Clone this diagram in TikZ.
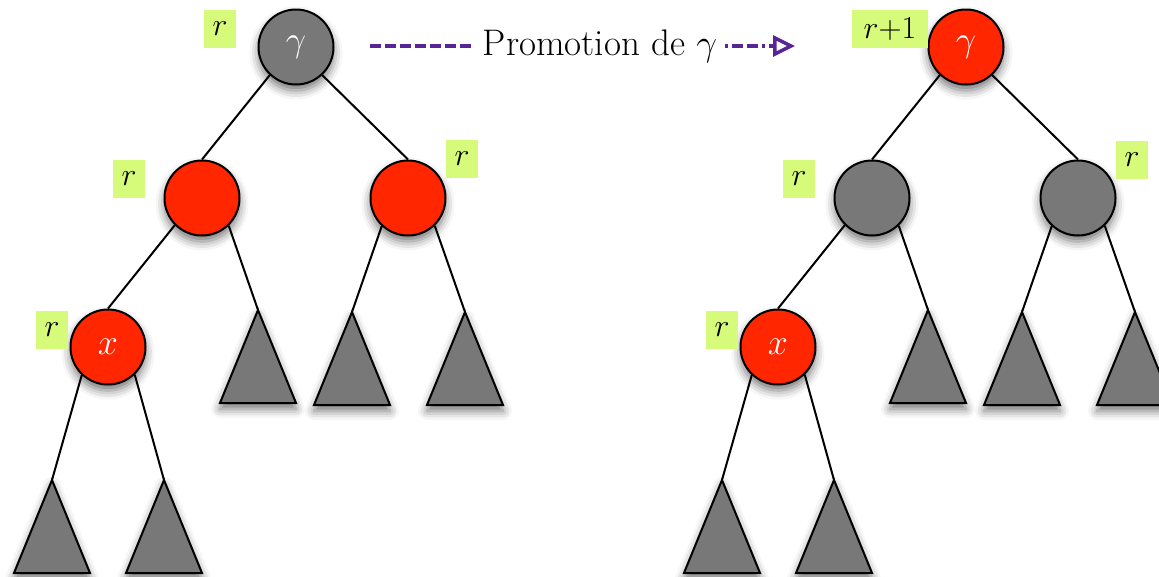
\RequirePackage{fix-cm}
\documentclass[tikz,border=0pt]{standalone}
\usetikzlibrary{arrows.meta,shadows.blur}
\definecolor{nodered}{RGB}{255,38,0}
\definecolor{nodegrey}{RGB}{120,120,120}
\definecolor{tagbg}{RGB}{214,250,121}
\definecolor{arrowpurple}{RGB}{88,36,150}
\begin{document}
\begin{tikzpicture}[x=1pt,y=-1pt,
  softshadow/.style={blur shadow={shadow xshift=0pt, shadow yshift=-6pt, shadow blur radius=9pt, shadow opacity=55}},
  vertex/.style={circle, draw=black, line width=2pt, minimum size=75pt, inner sep=0pt,
    font=\fontsize{36}{36}\selectfont, text=white, softshadow},
  redv/.style={vertex, fill=nodered},
  greyv/.style={vertex, fill=nodegrey},
  tag/.style={fill=tagbg, minimum height=38pt, minimum width=32pt, inner sep=0pt,
    font=\fontsize{32}{32}\selectfont},
  subtree/.style={draw=black, line width=2pt, fill=nodegrey, line join=miter, softshadow},
  link/.style={draw=black, line width=2pt},
  promo/.style={draw=arrowpurple, line width=3.5pt},
]
\useasboundingbox (0,0) rectangle (1159,576);

% apexes of the subtrees
\foreach \n/\x/\y in {la/258/310, lb/352/312, lc/465/312, ld/52/480, le/164/480,
                      ra/928/310, rb/1022/312, rc/1135/312, rd/722/480, re/834/480}
  \coordinate (\n) at (\x,\y);

% subtrees
\foreach \n in {la,lb,lc,ld,le,ra,rb,rc,rd,re}
  \path[subtree] (\n) -- ++(-38,93) -- ++(76,0) -- cycle;

% tree before the promotion
\node[greyv] (Ly) at (296,47) {$\gamma$};
\node[redv]  (Lp) at (202,198) {};
\node[redv]  (Lq) at (408,198) {};
\node[redv]  (Lx) at (108,347) {$x$};

% tree after the promotion
\node[redv]  (Ry) at (966,47) {$\gamma$};
\node[greyv] (Rp) at (872,198) {};
\node[greyv] (Rq) at (1078,198) {};
\node[redv]  (Rx) at (778,347) {$x$};

% edges
\draw[link] (Ly.227) -- (Lp.north);
\draw[link] (Ly.313) -- (Lq.north);
\draw[link] (Lp.225) -- (Lx.north);
\draw[link] (Lp.314) -- (la);
\draw[link] (Lq.227) -- (lb);
\draw[link] (Lq.314) -- (lc);
\draw[link] (Lx.227) -- (ld);
\draw[link] (Lx.314) -- (le);
\draw[link] (Ry.227) -- (Rp.north);
\draw[link] (Ry.313) -- (Rq.north);
\draw[link] (Rp.225) -- (Rx.north);
\draw[link] (Rp.314) -- (ra);
\draw[link] (Rq.227) -- (rb);
\draw[link] (Rq.314) -- (rc);
\draw[link] (Rx.227) -- (rd);
\draw[link] (Rx.314) -- (re);

% rank tags
\node[tag] (tLy) at (220,29) {$r$};
\node[tag] (tLp) at (129,179) {$r$};
\node[tag] (tLq) at (462,159) {$r$};
\node[tag] (tLx) at (52,330) {$r$};
\node[tag, minimum width=76pt] (tRy) at (890,29) {$r$+1};
\node[tag] (tRp) at (799,179) {$r$};
\node[tag] (tRq) at (1132,160) {$r$};
\node[tag] (tRx) at (722,330) {$r$};

% promotion arrow
\node[font=\fontsize{37}{37}\selectfont, inner sep=8pt, anchor=base] (pt) at (600,55) {Promotion de $\gamma$};
\coordinate (ps) at (370,46);
\coordinate (pe) at (795,46);
\coordinate (pw) at (pt.west |- ps);
\coordinate (pr) at (pt.east |- ps);
\draw[promo, dash pattern=on 11pt off 4pt] (ps) -- (pw);
\draw[promo, dash pattern=on 3pt off 4pt on 11pt off 4pt on 11pt off 4pt,
      -{Triangle[open, length=22pt, width=21pt, line width=3.5pt]}] (pr) -- (pe);
\end{tikzpicture}
\end{document}
